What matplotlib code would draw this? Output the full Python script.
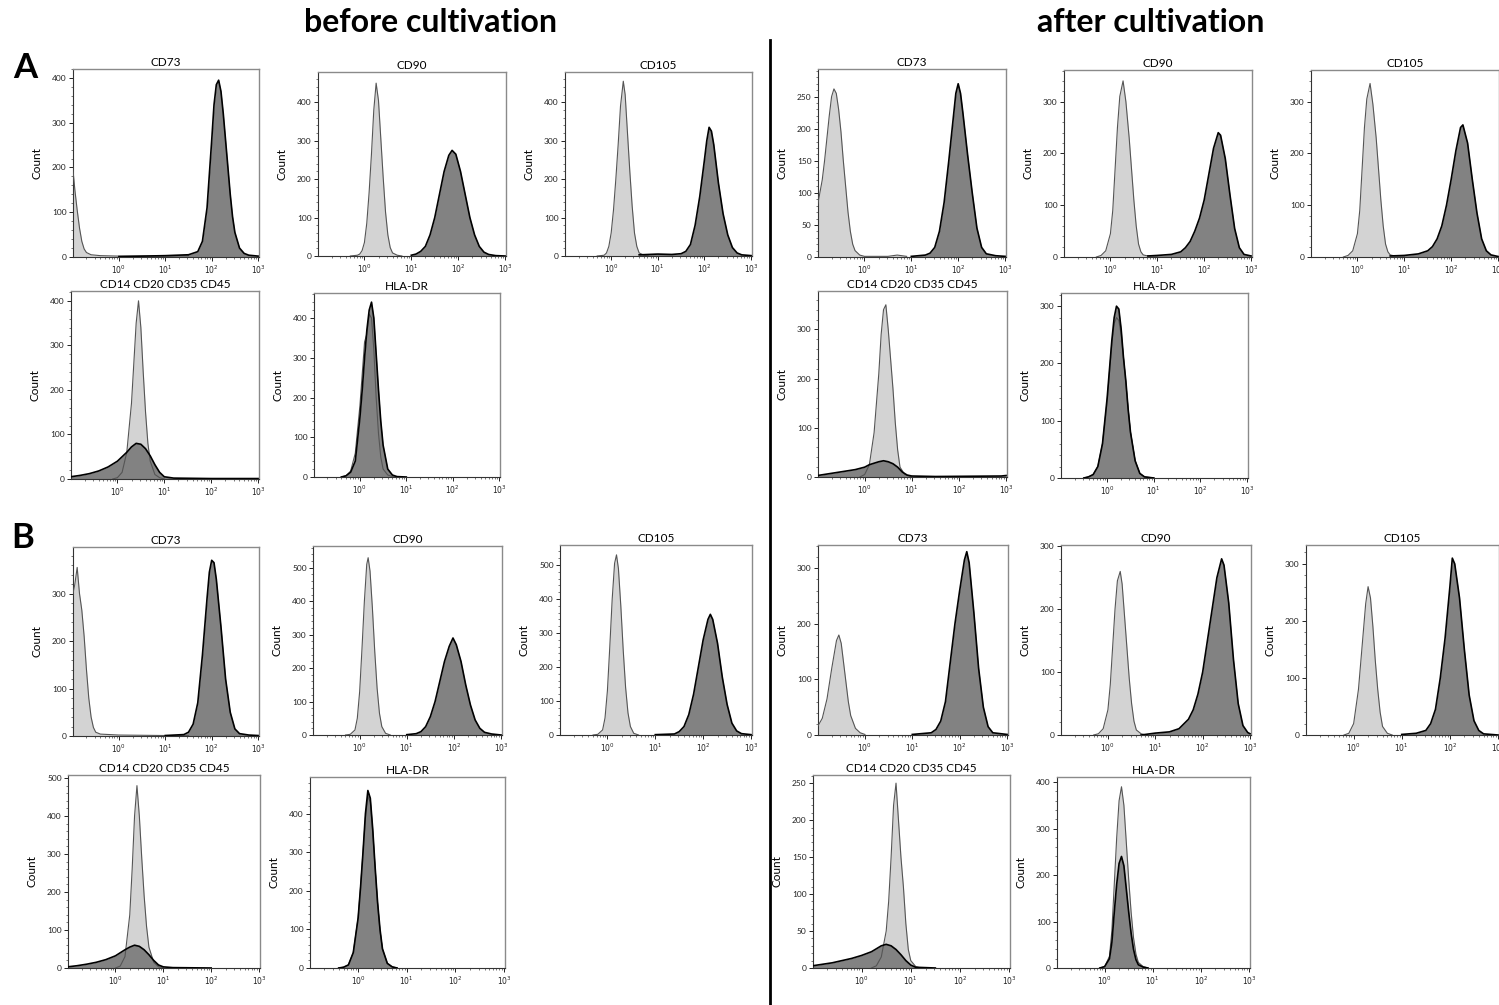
import matplotlib
matplotlib.use("Agg")
import matplotlib.pyplot as plt
from matplotlib.ticker import MultipleLocator, AutoMinorLocator, LogLocator, NullFormatter, FixedLocator, FixedFormatter
import numpy as np

plt.rcParams['font.family'] = ['Lato', 'DejaVu Sans']

# ---------------- data: (log10 intensity, count) ----------------
# Panel A, before cultivation
A_bef_CD73_ctrl = [(-1.0,205),(-0.95,150),(-0.9,105),(-0.85,65),(-0.8,35),(-0.75,18),(-0.7,10),(-0.6,5),(-0.4,3),(0.0,2),(1.0,2),(1.5,3)]
A_bef_CD73_stain = [(0.0,1),(1.0,3),(1.5,5),(1.7,12),(1.8,35),(1.9,110),(2.0,260),(2.05,340),(2.1,385),(2.15,395),(2.2,370),(2.25,320),(2.3,260),(2.35,200),(2.4,140),(2.45,90),(2.5,55),(2.6,20),(2.7,8),(2.8,4),(3.0,2)]
A_bef_CD90_ctrl = [(-0.3,0),(-0.15,2),(-0.1,5),(-0.05,14),(0.0,35),(0.05,85),(0.1,165),(0.15,265),(0.2,380),(0.25,450),(0.3,405),(0.35,305),(0.4,205),(0.45,115),(0.5,55),(0.55,22),(0.6,8),(0.7,2),(0.8,0)]
A_bef_CD90_stain = [(1.0,2),(1.1,5),(1.2,12),(1.3,25),(1.4,55),(1.5,100),(1.6,160),(1.7,220),(1.8,262),(1.87,275),(1.95,265),(2.05,220),(2.15,160),(2.25,100),(2.35,55),(2.45,25),(2.55,10),(2.65,4),(2.8,1),(3.0,0)]
A_bef_CD105_ctrl = [(-0.3,0),(-0.15,2),(-0.1,8),(-0.05,25),(0.0,60),(0.05,120),(0.1,200),(0.15,290),(0.2,390),(0.26,455),(0.3,420),(0.35,320),(0.4,220),(0.45,130),(0.5,60),(0.55,25),(0.6,8),(0.7,2),(0.8,0)]
A_bef_CD105_stain = [(0.6,3),(1.0,5),(1.3,4),(1.5,6),(1.6,12),(1.7,30),(1.8,80),(1.9,155),(2.0,250),(2.05,300),(2.1,335),(2.15,325),(2.2,290),(2.3,190),(2.4,110),(2.5,55),(2.6,22),(2.7,8),(2.8,3),(3.0,1)]
A_bef_CD14_ctrl = [(-0.1,0),(0.0,3),(0.1,15),(0.2,60),(0.3,170),(0.35,260),(0.4,350),(0.45,400),(0.5,340),(0.55,240),(0.6,150),(0.65,80),(0.7,40),(0.8,10),(0.9,3),(1.0,0)]
A_bef_CD14_stain = [(-1.0,5),(-0.8,8),(-0.6,12),(-0.4,18),(-0.2,27),(0.0,40),(0.1,50),(0.2,60),(0.3,72),(0.4,80),(0.5,78),(0.6,68),(0.7,52),(0.8,32),(0.9,15),(1.0,5),(1.2,2),(2.0,1),(3.0,1)]
A_bef_HLA_ctrl = [(-0.4,0),(-0.3,3),(-0.2,15),(-0.1,60),(0.0,180),(0.05,260),(0.1,340),(0.15,360),(0.2,410),(0.25,400),(0.3,320),(0.35,200),(0.4,110),(0.45,50),(0.5,20),(0.6,5),(0.7,1),(0.8,0)]
A_bef_HLA_stain = [(-0.4,0),(-0.3,3),(-0.2,12),(-0.1,40),(0.0,150),(0.05,220),(0.1,300),(0.15,370),(0.2,420),(0.25,440),(0.3,400),(0.35,310),(0.4,220),(0.45,140),(0.5,80),(0.6,20),(0.7,5),(0.8,1),(1.0,0)]

# Panel A, after cultivation
A_aft_CD73_ctrl = [(-1.0,80),(-0.95,100),(-0.9,120),(-0.85,150),(-0.8,185),(-0.75,220),(-0.7,250),(-0.65,262),(-0.6,255),(-0.55,230),(-0.5,195),(-0.45,150),(-0.4,110),(-0.35,70),(-0.3,40),(-0.25,20),(-0.2,10),(-0.1,3),(0.0,1),(0.5,1),(0.7,3),(0.9,1)]
A_aft_CD73_stain = [(1.0,1),(1.3,3),(1.4,6),(1.5,15),(1.6,40),(1.7,85),(1.8,150),(1.9,220),(1.95,255),(2.0,270),(2.05,255),(2.1,225),(2.2,160),(2.3,100),(2.4,45),(2.5,15),(2.6,5),(2.8,2),(3.0,1)]
A_aft_CD90_ctrl = [(-0.3,0),(-0.2,3),(-0.1,12),(0.0,45),(0.05,90),(0.1,170),(0.15,250),(0.2,310),(0.27,340),(0.33,300),(0.4,230),(0.45,170),(0.5,110),(0.55,60),(0.6,25),(0.65,10),(0.7,4),(0.8,2),(1.0,2)]
A_aft_CD90_stain = [(0.8,2),(1.0,3),(1.3,5),(1.5,10),(1.6,18),(1.7,30),(1.8,50),(1.9,75),(2.0,110),(2.1,160),(2.2,210),(2.3,240),(2.35,235),(2.45,190),(2.55,120),(2.65,55),(2.75,18),(2.85,5),(3.0,2)]
A_aft_CD105_ctrl = [(-0.3,0),(-0.2,3),(-0.1,12),(0.0,45),(0.05,90),(0.1,170),(0.15,250),(0.2,305),(0.27,335),(0.33,295),(0.4,230),(0.45,170),(0.5,110),(0.55,60),(0.6,25),(0.65,10),(0.7,4),(0.8,2),(1.0,2)]
A_aft_CD105_stain = [(0.7,2),(1.0,3),(1.3,6),(1.5,12),(1.6,20),(1.7,35),(1.8,60),(1.9,100),(2.0,150),(2.1,205),(2.2,250),(2.25,255),(2.35,220),(2.45,150),(2.55,85),(2.65,35),(2.75,12),(2.85,4),(3.0,1)]
A_aft_CD14_ctrl = [(-0.1,0),(0.0,5),(0.1,25),(0.2,90),(0.3,210),(0.35,290),(0.4,340),(0.45,350),(0.5,300),(0.55,240),(0.6,180),(0.65,110),(0.7,55),(0.75,20),(0.85,5),(1.0,0)]
A_aft_CD14_stain = [(-1.0,3),(-0.8,6),(-0.6,9),(-0.4,12),(-0.2,15),(0.0,20),(0.1,25),(0.2,28),(0.3,31),(0.4,33),(0.5,31),(0.6,27),(0.7,20),(0.8,10),(0.9,4),(1.0,2),(1.5,1),(2.9,2),(3.0,3)]
A_aft_HLA_ctrl = [(-0.5,0),(-0.4,2),(-0.3,6),(-0.2,20),(-0.1,60),(0.0,135),(0.05,185),(0.1,235),(0.15,270),(0.2,280),(0.25,275),(0.3,250),(0.35,210),(0.4,165),(0.45,120),(0.5,80),(0.6,30),(0.7,8),(0.8,2),(1.0,0)]
A_aft_HLA_stain = [(-0.5,0),(-0.4,2),(-0.3,6),(-0.2,20),(-0.1,60),(0.0,140),(0.05,190),(0.1,240),(0.15,280),(0.2,300),(0.25,295),(0.3,260),(0.35,210),(0.4,170),(0.45,120),(0.5,80),(0.6,30),(0.7,8),(0.8,2),(1.0,0)]

# Panel B, before cultivation
B_bef_CD73_ctrl = [(-1.0,295),(-0.95,320),(-0.9,355),(-0.85,300),(-0.8,265),(-0.75,210),(-0.7,140),(-0.65,80),(-0.6,40),(-0.55,18),(-0.5,8),(-0.4,4),(0.0,2),(1.0,1),(1.5,1)]
B_bef_CD73_stain = [(1.0,1),(1.4,3),(1.5,8),(1.6,25),(1.7,70),(1.8,170),(1.9,290),(1.95,345),(2.0,370),(2.05,365),(2.1,330),(2.2,230),(2.3,120),(2.4,50),(2.5,15),(2.6,5),(2.8,2),(3.0,1)]
B_bef_CD90_ctrl = [(-0.3,0),(-0.2,2),(-0.1,15),(-0.05,50),(0.0,130),(0.05,260),(0.1,400),(0.15,510),(0.18,530),(0.22,490),(0.27,380),(0.32,250),(0.37,140),(0.42,65),(0.47,25),(0.55,5),(0.65,0)]
B_bef_CD90_stain = [(1.0,1),(1.2,4),(1.3,10),(1.4,25),(1.5,55),(1.6,100),(1.7,160),(1.8,220),(1.9,265),(1.98,290),(2.05,270),(2.15,220),(2.25,150),(2.35,90),(2.45,45),(2.55,20),(2.65,8),(2.8,3),(3.0,0)]
B_bef_CD105_ctrl = [(-0.3,0),(-0.2,2),(-0.1,15),(-0.05,50),(0.0,130),(0.05,260),(0.1,400),(0.15,505),(0.19,530),(0.23,490),(0.28,380),(0.33,250),(0.38,140),(0.43,65),(0.48,25),(0.55,5),(0.65,0)]
B_bef_CD105_stain = [(1.0,1),(1.4,3),(1.5,10),(1.6,25),(1.7,60),(1.8,120),(1.9,200),(2.0,280),(2.1,340),(2.15,355),(2.2,340),(2.3,270),(2.4,170),(2.5,90),(2.6,35),(2.7,12),(2.8,4),(3.0,1)]
B_bef_CD14_ctrl = [(0.0,0),(0.1,5),(0.2,30),(0.3,140),(0.35,260),(0.4,400),(0.45,480),(0.5,400),(0.55,290),(0.6,190),(0.65,110),(0.7,55),(0.8,15),(0.9,3),(1.0,0)]
B_bef_CD14_stain = [(-1.0,3),(-0.8,6),(-0.6,10),(-0.4,15),(-0.2,22),(0.0,32),(0.1,40),(0.2,48),(0.3,55),(0.4,60),(0.5,57),(0.6,48),(0.7,35),(0.8,20),(0.9,8),(1.0,3),(1.2,1),(2.0,0)]
B_bef_HLA_ctrl = [(-0.4,0),(-0.3,2),(-0.2,8),(-0.1,40),(0.0,130),(0.05,210),(0.1,300),(0.15,390),(0.2,445),(0.25,430),(0.3,350),(0.35,255),(0.4,165),(0.45,95),(0.5,48),(0.6,12),(0.7,3),(0.8,0)]
B_bef_HLA_stain = [(-0.4,0),(-0.3,2),(-0.2,8),(-0.1,40),(0.0,130),(0.05,210),(0.1,300),(0.15,400),(0.2,460),(0.25,440),(0.3,360),(0.35,260),(0.4,170),(0.45,100),(0.5,50),(0.6,12),(0.7,3),(0.8,0)]

# Panel B, after cultivation
B_aft_CD73_ctrl = [(-1.0,15),(-0.9,30),(-0.8,65),(-0.7,120),(-0.6,170),(-0.55,180),(-0.5,165),(-0.45,130),(-0.4,95),(-0.35,60),(-0.3,35),(-0.2,12),(-0.1,4),(0.0,1)]
B_aft_CD73_stain = [(1.0,1),(1.4,4),(1.5,10),(1.6,25),(1.7,60),(1.8,130),(1.9,200),(2.0,260),(2.1,315),(2.15,330),(2.2,310),(2.3,220),(2.4,120),(2.5,50),(2.6,15),(2.7,4),(3.0,1)]
B_aft_CD90_ctrl = [(-0.3,0),(-0.2,2),(-0.1,10),(0.0,40),(0.05,80),(0.1,140),(0.15,200),(0.2,245),(0.26,260),(0.3,240),(0.35,190),(0.4,140),(0.45,90),(0.5,50),(0.55,22),(0.6,8),(0.7,2),(0.8,0)]
B_aft_CD90_stain = [(0.7,0),(1.0,3),(1.3,5),(1.5,10),(1.7,25),(1.8,40),(1.9,65),(2.0,100),(2.1,150),(2.2,200),(2.3,250),(2.4,280),(2.45,270),(2.55,210),(2.65,120),(2.75,50),(2.85,15),(2.95,4),(3.0,2)]
B_aft_CD105_ctrl = [(-0.2,0),(-0.1,3),(0.0,20),(0.1,80),(0.2,180),(0.25,230),(0.3,260),(0.35,240),(0.4,190),(0.45,130),(0.5,80),(0.55,40),(0.6,15),(0.7,3),(0.8,0)]
B_aft_CD105_stain = [(1.0,1),(1.3,3),(1.5,8),(1.6,20),(1.7,45),(1.8,100),(1.9,170),(2.0,260),(2.05,310),(2.1,300),(2.2,240),(2.3,150),(2.4,70),(2.5,25),(2.6,8),(2.7,2),(3.0,0)]
B_aft_CD14_ctrl = [(0.2,0),(0.3,3),(0.4,15),(0.5,50),(0.55,90),(0.6,150),(0.65,220),(0.7,250),(0.75,200),(0.8,150),(0.85,110),(0.9,60),(0.95,25),(1.0,10),(1.1,2),(1.2,0)]
B_aft_CD14_stain = [(-1.0,3),(-0.8,5),(-0.6,7),(-0.4,10),(-0.2,13),(0.0,17),(0.2,22),(0.3,26),(0.4,30),(0.5,32),(0.6,30),(0.7,25),(0.8,18),(0.9,10),(1.0,4),(1.1,1),(1.5,0)]
B_aft_HLA_ctrl = [(-0.1,0),(0.0,3),(0.1,25),(0.15,80),(0.2,180),(0.25,280),(0.3,360),(0.35,390),(0.4,350),(0.45,270),(0.5,190),(0.55,120),(0.6,65),(0.65,30),(0.7,12),(0.8,3),(0.9,0)]
B_aft_HLA_stain = [(-0.1,0),(0.0,3),(0.1,20),(0.15,55),(0.2,120),(0.25,180),(0.3,225),(0.35,240),(0.4,220),(0.45,170),(0.5,120),(0.55,75),(0.6,40),(0.65,18),(0.7,7),(0.8,2),(0.9,0)]

titles = ["CD73", "CD90", "CD105", "CD14 CD20 CD35 CD45", "HLA-DR"]
x_tick_labels = ["$10^0$", "$10^1$", "$10^2$", "$10^3$"]

# ---------------- figure ----------------
W, H = 1499, 1005
fig = plt.figure(figsize=(W / 100, H / 100), dpi=100)
fig.patch.set_facecolor("white")

CTRL_FC, CTRL_EC = "#d3d3d3", "#555555"
STAIN_FC, STAIN_EC = "#828282", "#000000"


def draw(box, ctrl, stain, ymax, ystep, title):
    x0, y0, x1, y1 = box
    ax = fig.add_axes([x0 / W, 1 - y1 / H, (x1 - x0) / W, (y1 - y0) / H])
    cu = np.array([p[0] for p in ctrl]); cn = np.array([p[1] for p in ctrl])
    su = np.array([p[0] for p in stain]); sn = np.array([p[1] for p in stain])
    ax.fill_between(10.0 ** cu, cn, 0, color=CTRL_FC, lw=0, zorder=1)
    ax.fill_between(10.0 ** su, sn, 0, color=STAIN_FC, lw=0, zorder=2)
    ax.plot(10.0 ** cu, cn, color=CTRL_EC, lw=0.8, zorder=3)
    ax.plot(10.0 ** su, sn, color=STAIN_EC, lw=1.2, zorder=4)
    ax.set_xscale("log")
    ax.set_xlim(10 ** -0.99, 10 ** 3.02)
    ax.set_ylim(0, ymax)
    ax.xaxis.set_major_locator(FixedLocator([1, 10, 100, 1000]))
    ax.xaxis.set_major_formatter(FixedFormatter(x_tick_labels))
    ax.xaxis.set_minor_locator(LogLocator(base=10, subs=np.arange(2, 10), numticks=20))
    ax.xaxis.set_minor_formatter(NullFormatter())
    ax.yaxis.set_major_locator(MultipleLocator(ystep))
    ax.yaxis.set_minor_locator(AutoMinorLocator(5))
    ax.tick_params(axis="both", which="major", length=3, width=0.7, pad=1.5, colors="#222222")
    ax.tick_params(axis="both", which="minor", length=1.5, width=0.5, colors="#444444")
    ax.tick_params(axis="x", labelsize=5.5)
    ax.tick_params(axis="y", labelsize=6)
    for s in ["top", "right"]:
        ax.spines[s].set_color("#8a8a8a")
        ax.spines[s].set_linewidth(1.0)
    for s in ["left", "bottom"]:
        ax.spines[s].set_color("#333333")
        ax.spines[s].set_linewidth(0.8)
    ax.set_ylabel("Count", fontsize=8.5, labelpad=7)
    ax.set_title(title, fontsize=8.5, pad=2.5)
    return ax


# row 1 (A, top)
draw((73, 69, 259, 257), A_bef_CD73_ctrl, A_bef_CD73_stain, 420, 100, titles[0])
draw((318, 72, 506, 256), A_bef_CD90_ctrl, A_bef_CD90_stain, 479, 100, titles[1])
draw((565, 72, 752, 256), A_bef_CD105_ctrl, A_bef_CD105_stain, 479, 100, titles[2])
draw((818, 69, 1006, 257), A_aft_CD73_ctrl, A_aft_CD73_stain, 293, 50, titles[0])
draw((1064, 70, 1252, 257), A_aft_CD90_ctrl, A_aft_CD90_stain, 361, 100, titles[1])
draw((1311, 70, 1499, 257), A_aft_CD105_ctrl, A_aft_CD105_stain, 361, 100, titles[2])
# row 2 (A, bottom)
draw((71, 291, 259, 479), A_bef_CD14_ctrl, A_bef_CD14_stain, 422, 100, titles[3])
draw((314, 293, 500, 477), A_bef_HLA_ctrl, A_bef_HLA_stain, 463, 100, titles[4])
draw((818, 291, 1007, 477), A_aft_CD14_ctrl, A_aft_CD14_stain, 378, 100, titles[3])
draw((1061, 293, 1248, 478), A_aft_HLA_ctrl, A_aft_HLA_stain, 323, 100, titles[4])
# row 3 (B, top)
draw((73, 547, 259, 736), B_bef_CD73_ctrl, B_bef_CD73_stain, 398, 100, titles[0])
draw((313, 546, 502, 735), B_bef_CD90_ctrl, B_bef_CD90_stain, 565, 100, titles[1])
draw((560, 545, 752, 735), B_bef_CD105_ctrl, B_bef_CD105_stain, 559, 100, titles[2])
draw((818, 545, 1008, 735), B_aft_CD73_ctrl, B_aft_CD73_stain, 342, 100, titles[0])
draw((1061, 545, 1251, 735), B_aft_CD90_ctrl, B_aft_CD90_stain, 302, 100, titles[1])
draw((1306, 545, 1499, 735), B_aft_CD105_ctrl, B_aft_CD105_stain, 333, 100, titles[2])
# row 4 (B, bottom)
draw((68, 775, 260, 968), B_bef_CD14_ctrl, B_bef_CD14_stain, 508, 100, titles[3])
draw((310, 777, 505, 968), B_bef_HLA_ctrl, B_bef_HLA_stain, 495, 100, titles[4])
draw((813, 775, 1010, 968), B_aft_CD14_ctrl, B_aft_CD14_stain, 261, 50, titles[3])
draw((1057, 777, 1250, 968), B_aft_HLA_ctrl, B_aft_HLA_stain, 411, 100, titles[4])

# headers, panel letters, divider
fig.text(430 / W, 1 - 23 / H, "before cultivation", ha="center", va="center",
         fontsize=23, fontweight="bold")
fig.text(1151 / W, 1 - 23 / H, "after cultivation", ha="center", va="center",
         fontsize=23, fontweight="bold")
fig.text(25 / W, 1 - 68 / H, "A", ha="center", va="center", fontsize=25, fontweight="bold")
fig.text(23 / W, 1 - 538 / H, "B", ha="center", va="center", fontsize=25, fontweight="bold")
fig.add_artist(plt.Line2D([770 / W, 770 / W], [1 - 40 / H, 0], transform=fig.transFigure,
                          color="black", lw=2))

fig.savefig("out.png", dpi=100, facecolor="white")
